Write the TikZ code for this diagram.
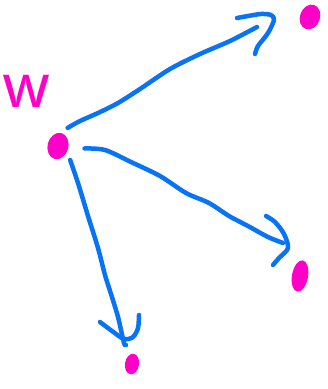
\documentclass[tikz,border=0pt]{standalone}
\usetikzlibrary{shapes.geometric}

\definecolor{inkblue}{RGB}{8,116,245}
\definecolor{inkpink}{RGB}{255,0,200}

\begin{document}
\begin{tikzpicture}[
  x=0.03cm,
  y=-0.03cm,
  line cap=round,
  line join=round,
  dot/.style={
    ellipse,
    fill=inkpink,
    inner sep=0pt,
    outer sep=0.22cm
  },
  stroke/.style={draw=inkblue,line width=0.135cm},
  label/.style={text=inkpink,font=\sffamily\fontsize{64}{64}\selectfont}
]
\useasboundingbox (0,0) rectangle (327,389);

% source point and its label
\node[dot,minimum width=0.62cm,minimum height=0.8cm,rotate=-15] (src) at (58,146) {};
\node[label] (lbl) at (27,91) {w};

% the three targets
\node[dot,minimum width=0.6cm,minimum height=0.76cm,rotate=-20] (tgtTop) at (310,17) {};
\node[dot,minimum width=0.48cm,minimum height=0.95cm,rotate=-10] (tgtRight) at (300,276) {};
\node[dot,minimum width=0.42cm,minimum height=0.62cm,rotate=-10] (tgtBottom) at (132,364) {};

\coordinate (tipTop) at (257,27);
\coordinate (tipRight) at (283,243);
\coordinate (tipBottom) at (126,345);

% upper arrow
\draw[stroke] plot[smooth,tension=0.5] coordinates {(src.77) (80,121) (98,113) (118,103)
  (140,89) (170,69) (200,54) (230,41) (tipTop)};
\draw[stroke] plot[smooth,tension=0.5] coordinates {(237,18) (248,16) (261,14) (271,15)
  (274,20) (268,33) (258,46) (255,54)};

% right arrow
\draw[stroke] plot[smooth,tension=0.5] coordinates {([xshift=0.27cm]src.7) (105,150) (131,162)
  (160,176) (186,193) (209,203) (229,216) (248,226) (268,237) (tipRight)};
\draw[stroke] plot[smooth,tension=0.5] coordinates {(266,216) (275,222) (284,234)
  (288,248) (279,258) (273,265)};

% lower arrow
\draw[stroke] plot[smooth,tension=0.5] coordinates {(src.-34) (78,183) (88,216) (98,248)
  (105,275) (111,294) (118,317) (124,343) (tipBottom)};
\draw[stroke] plot[smooth,tension=0.5] coordinates {(100,322) (112,331) (124,339)
  (133,337) (138,328) (139,315)};

\end{tikzpicture}
\end{document}
